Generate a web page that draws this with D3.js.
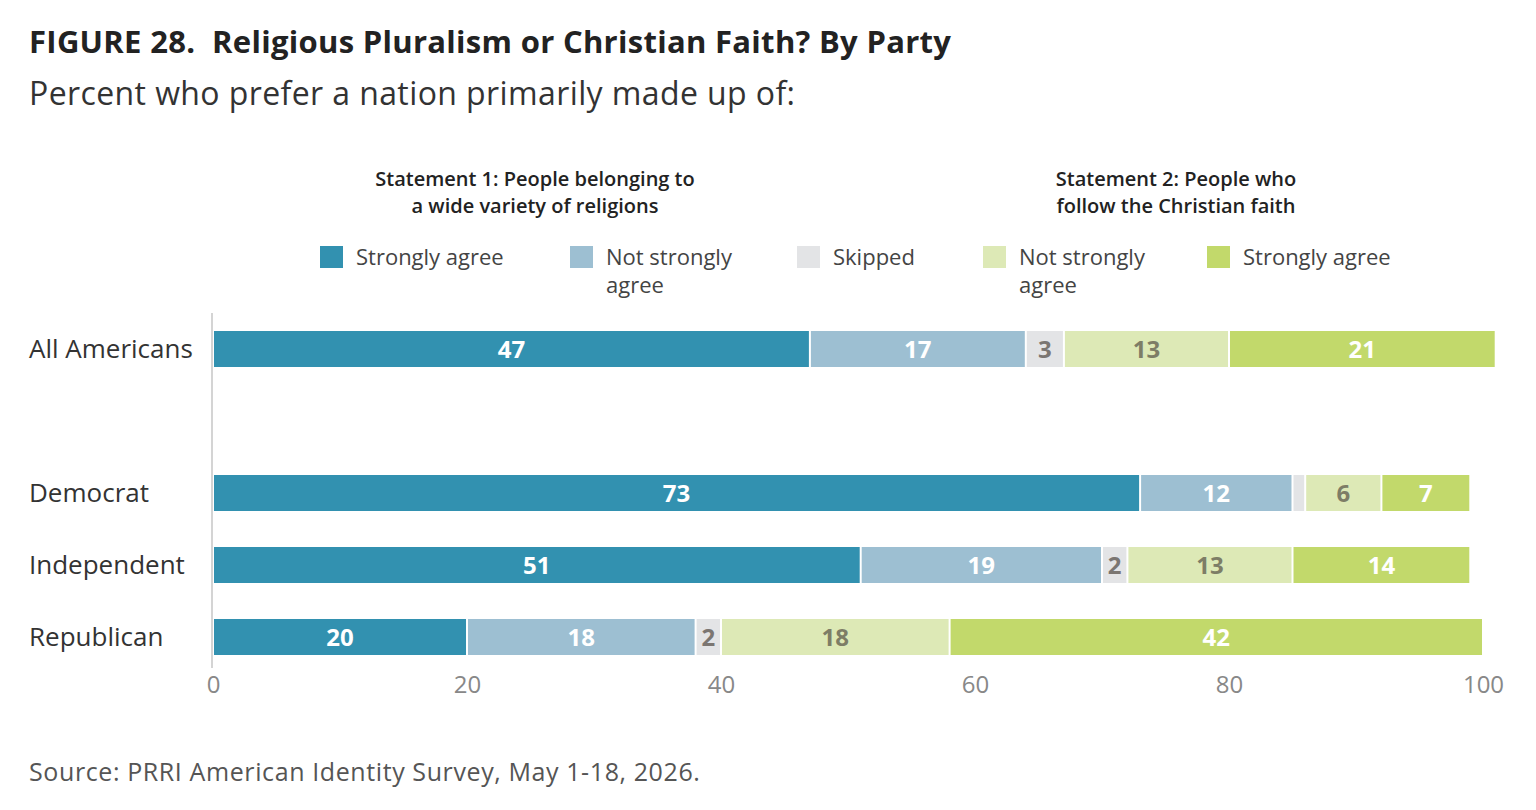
<!DOCTYPE html>
<html><head><meta charset="utf-8">
<script src="https://cdn.jsdelivr.net/npm/d3@7"></script>
<style>body{margin:0;background:#fff}svg{font-family:"Open Sans",sans-serif}text{white-space:pre}</style>
</head><body><svg id="c" width="1536" height="810"></svg>
<script>
const categories = ["All Americans", "", "Democrat", "Independent", "Republican"];
const seriesNames = ["Strongly agree", "Not strongly agree", "Skipped", "Not strongly agree", "Strongly agree"];
const strongPlural = [47, null, 73, 51, 20];
const notStrongPlural = [17, null, 12, 19, 18];
const skipped = [3, null, 1, 2, 2];
const notStrongChristian = [13, null, 6, 13, 18];
const strongChristian = [21, null, 7, 14, 42];
const skippedLabels = ["3", null, "", "2", "2"];
const ticks = [0, 20, 40, 60, 80, 100];
const colors = ["#3291b0", "#9dbfd2", "#e3e4e6", "#dde9b6", "#c2d96b"];
const labelColors = ["#fff", "#fff", "#7b7672", "#7d7d66", "#fff"];

const svg = d3.select("#c");
const x = d3.scaleLinear().domain([0, 100]).range([213, 1483]);
const y = d3.scalePoint().domain(categories).range([349, 637]);
const bh = 36;
const series = [strongPlural, notStrongPlural, skipped, notStrongChristian, strongChristian];

svg.append("text").attr("x", 29).attr("y", 53).attr("font-size", 31).attr("font-weight", 700).attr("fill", "#222")
  .attr("letter-spacing", 0.3).text("FIGURE 28.  Religious Pluralism or Christian Faith? By Party");
svg.append("text").attr("x", 29).attr("y", 105).attr("font-size", 32).attr("fill", "#333").attr("letter-spacing", 0.4)
  .text("Percent who prefer a nation primarily made up of:");

[[535, ["Statement 1: People belonging to", "a wide variety of religions"]],
 [1176, ["Statement 2: People who", "follow the Christian faith"]]].forEach(([cx, lines]) => {
  lines.forEach((l, i) => svg.append("text").attr("x", cx).attr("y", 186 + i * 27).attr("text-anchor", "middle")
    .attr("font-size", 20).attr("font-weight", 600).attr("fill", "#222").text(l));
});

const legX = [320, 570, 797, 983, 1207];
const legLines = [["Strongly agree"], ["Not strongly", "agree"], ["Skipped"], ["Not strongly", "agree"], ["Strongly agree"]];
legX.forEach((lx, i) => {
  svg.append("rect").attr("x", lx).attr("y", 246).attr("width", 23).attr("height", 22).attr("fill", colors[i]);
  legLines[i].forEach((l, j) => svg.append("text").attr("x", lx + 36).attr("y", 265 + j * 28)
    .attr("font-size", 22).attr("fill", "#444").text(l));
});

svg.append("line").attr("x1", 212).attr("x2", 212).attr("y1", 313).attr("y2", 668).attr("stroke", "#d4d4d4").attr("stroke-width", 2);

categories.forEach((c, ci) => {
  if (!c) return;
  svg.append("text").attr("x", 29).attr("y", y(c) + 9).attr("font-size", 26).attr("fill", "#333").text(c);
  let acc = 0;
  series.forEach((s, si) => {
    const v = s[ci];
    svg.append("rect").attr("x", x(acc) + 1).attr("y", y(c) - bh / 2).attr("width", Math.max(0, x(acc + v) - x(acc) - 2))
      .attr("height", bh).attr("fill", colors[si]);
    const lab = si === 2 ? skippedLabels[ci] : String(v);
    if (lab) svg.append("text").attr("x", (x(acc) + x(acc + v)) / 2).attr("y", y(c) + 9).attr("text-anchor", "middle")
      .attr("font-size", 24).attr("font-weight", 700).attr("fill", labelColors[si]).text(lab);
    acc += v;
  });
});

const ax = svg.append("g").attr("transform", "translate(0,668)")
  .call(d3.axisBottom(x).tickValues(ticks).tickSize(0).tickPadding(8));
ax.select(".domain").remove();
ax.selectAll("text").attr("font-size", 24).attr("fill", "#888").attr("font-family", "Open Sans, sans-serif");

svg.append("text").attr("x", 29).attr("y", 781).attr("font-size", 25).attr("fill", "#555").attr("letter-spacing", 0.6)
  .text("Source: PRRI American Identity Survey, May 1-18, 2026.");
</script></body></html>
